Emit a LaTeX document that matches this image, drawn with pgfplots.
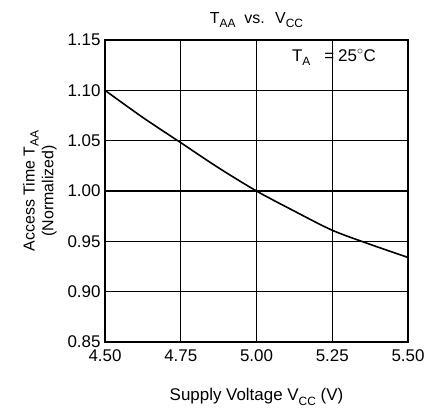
\documentclass[border=0pt]{standalone}
\usepackage{pgfplots}
\pgfplotsset{compat=1.18}
\usepackage{fontspec}
\setmainfont{Liberation Sans}
\newcommand{\sub}[1]{\raisebox{-0.5ex}{\fontsize{12}{13}\selectfont #1}}
\begin{document}
\begin{tikzpicture}
\useasboundingbox (-105bp,-73bp) rectangle (321bp,342bp);
\begin{axis}[
  at={(0,0)}, anchor=south west,
  scale only axis, width=303bp, height=302bp,
  xmin=4.5, xmax=5.5, ymin=0.85, ymax=1.15,
  xtick={4.5,4.75,5.0,5.25,5.5},
  xticklabels={4.50,4.75,5.00,5.25,5.50},
  ytick={0.85,0.90,0.95,1.00,1.05,1.10,1.15},
  yticklabels={0.85,0.90,0.95,1.00,1.05,1.10,1.15},
  major tick length=0pt,
  grid=major,
  major grid style={black, line width=1.4pt},
  axis line style={black, line width=2.6pt},
  tick label style={font=\fontsize{17}{19}\selectfont},
  xticklabel style={yshift=-4bp},
  yticklabel style={xshift=-1bp},
  clip=false,
]
\addplot[black, line width=1.6pt, smooth] coordinates {
 (4.5,1.100) (4.625,1.073) (4.75,1.048) (4.875,1.023) (5.0,1.000)
 (5.125,0.980) (5.25,0.961) (5.375,0.947) (5.5,0.934)
};
\draw[black, line width=2.6pt] (rel axis cs:0,0) rectangle (rel axis cs:1,1);
\node[font=\fontsize{16}{18}\selectfont] at (rel axis cs:0.5,1.066) {T\sub{AA} \ vs. \ V\sub{CC}};
\node[font=\fontsize{17}{19}\selectfont, anchor=base west, inner sep=0pt] at (axis cs:5.117,1.129) {T\sub{A}};
\node[font=\fontsize{17}{19}\selectfont, anchor=base, inner sep=0pt] at (axis cs:5.240,1.129) {=};
\node[font=\fontsize{17}{19}\selectfont, anchor=base west, inner sep=0pt] at (axis cs:5.269,1.129) {25$^\circ$C};
\node[font=\fontsize{16}{19}\selectfont, rotate=90, align=center] at (rel axis cs:-0.215,0.5) {Access Time T\sub{AA}\\(Normalized)};
\node[font=\fontsize{17}{19}\selectfont] at (rel axis cs:0.5,-0.182) {Supply Voltage V\sub{CC} (V)};
\end{axis}
\end{tikzpicture}
\end{document}
